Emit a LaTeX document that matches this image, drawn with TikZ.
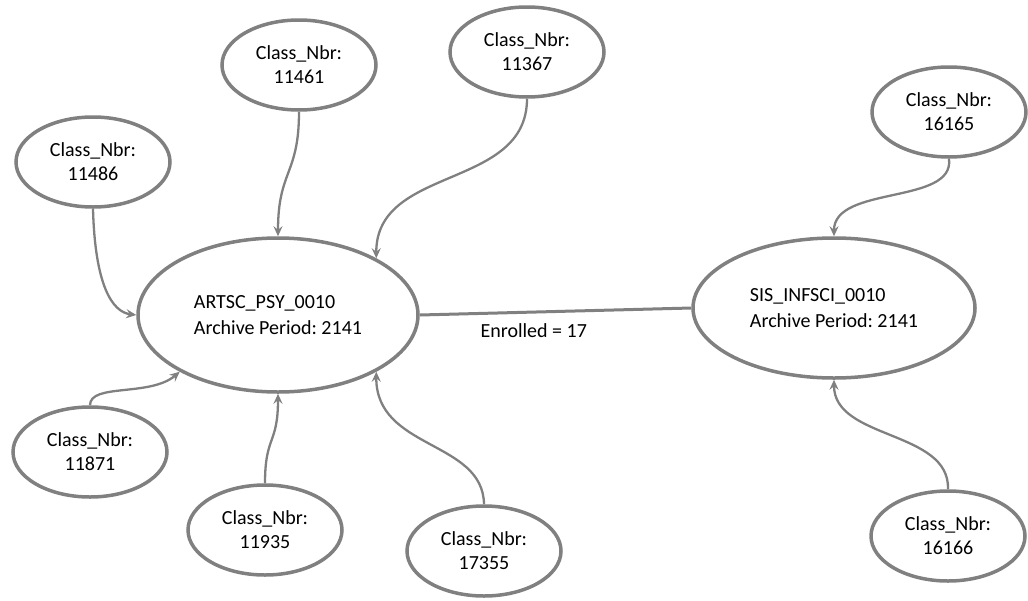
\documentclass[tikz,border=0pt]{standalone}
\usepackage{fontspec}
\setmainfont{Carlito}
\frenchspacing
\usetikzlibrary{shapes.geometric,arrows.meta}
\definecolor{linegray}{RGB}{128,128,128}
\begin{document}
\begin{tikzpicture}[x=1pt,y=-1pt,
  classnode/.style={ellipse,draw=linegray,line width=3.5pt,
    minimum width=154pt,minimum height=90pt,inner sep=0pt,
    align=center,font=\fontsize{20}{24}\selectfont},
  coursenode/.style={ellipse,draw=linegray,line width=3.5pt,
    inner sep=0pt,align=left,font=\fontsize{20}{26}\selectfont},
  feed/.style={draw=linegray,line width=2.3pt,
    -{Stealth[length=10pt,width=9pt,inset=3.5pt]}},
  link/.style={draw=linegray,line width=3pt}]
\useasboundingbox (0,0) rectangle (1028,600);

% course offerings
\node[coursenode,minimum width=280pt,minimum height=154pt] (artsc) at (278,315)
  {ARTSC\_PSY\_0010\\Archive Period: 2141};
\node[coursenode,minimum width=282pt,minimum height=140pt] (sis) at (834,308)
  {SIS\_INFSCI\_0010\\Archive Period: 2141};

% class sections
\node[classnode] (c11461) at (299,65)  {Class\_Nbr:\\11461};
\node[classnode] (c11367) at (527,52)  {Class\_Nbr:\\11367};
\node[classnode] (c11486) at (93,162)  {Class\_Nbr:\\11486};
\node[classnode] (c16165) at (949,112) {Class\_Nbr:\\16165};
\node[classnode] (c11871) at (90,452)  {Class\_Nbr:\\11871};
\node[classnode] (c11935) at (265,530) {Class\_Nbr:\\11935};
\node[classnode] (c17355) at (484,551) {Class\_Nbr:\\17355};
\node[classnode] (c16166) at (948,536) {Class\_Nbr:\\16166};

% shared enrolment
\draw[link] (artsc.east) -- (sis.west)
  node[pos=0.42,below=7pt,font=\fontsize{20}{24}\selectfont] (enr) {Enrolled = 17};

% section -> course connectors
\draw[feed] (c11461.south) .. controls (299,175) and (278,170) .. (artsc.north);
\draw[feed] (c11367.south) .. controls (527,190) and (376,165) .. (artsc.30);
\draw[feed] (c11486.south) .. controls (95,285) and (112,312) .. (artsc.west);
\draw[feed] (c11871.north) .. controls (90,383) and (150,397) .. (artsc.210);
\draw[feed] (c11935.north) .. controls (265,435) and (278,445) .. (artsc.south);
\draw[feed] (c17355.north) .. controls (483,440) and (376,450) .. (artsc.-30);
\draw[feed] (c16165.south) .. controls (955,205) and (834,185) .. (sis.north);
\draw[feed] (c16166.north) .. controls (950,430) and (834,440) .. (sis.south);
\end{tikzpicture}
\end{document}
